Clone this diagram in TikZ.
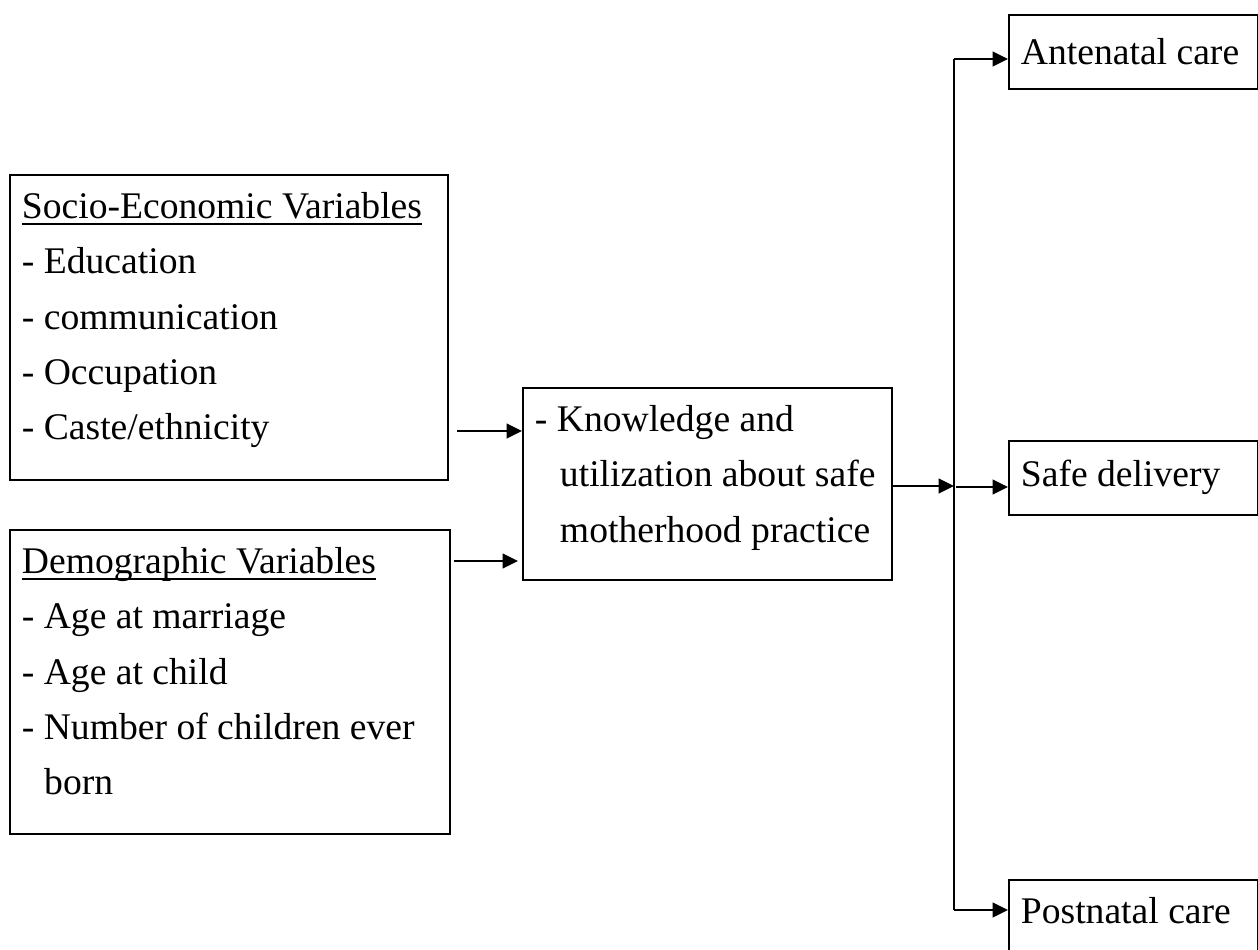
\documentclass[tikz,border=0pt]{standalone}
\usepackage{fontspec}
\setmainfont{Liberation Serif}
\usetikzlibrary{arrows.meta}
\newcommand\myul[1]{\setbox0\hbox{#1}\rlap{\rule[-2pt]{\wd0}{0.6pt}}\box0}
\begin{document}
\begin{tikzpicture}[x=0.327pt,y=-0.327pt,
  box/.style={draw, line width=0.6pt, anchor=north west, inner xsep=3.92pt, inner ysep=0pt,
              text height=14.39pt, font=\fontsize{12.3pt}{18pt}\selectfont},
  rbox/.style={box, minimum width=81.42pt},
  arr/.style={-{Triangle[length=5pt,width=4.8pt]}, line width=0.6pt},
  ln/.style={line width=0.6pt}]
\useasboundingbox (0,0) rectangle (1258,949);

\node[box, minimum width=143.2pt, text depth=85.35pt] (socio) at (9,174)
  {\parbox[t]{135.36pt}{\mbox{\myul{Socio-Economic Variables}}\\
   \mbox{- Education}\\
   \mbox{- communication}\\
   \mbox{- Occupation}\\
   \mbox{- Caste/ethnicity}}};

\node[box, minimum width=143.88pt, text depth=85.02pt] (demo) at (9,529)
  {\parbox[t]{136.04pt}{\mbox{\myul{Demographic Variables}}\\
   \mbox{- Age at marriage}\\
   \mbox{- Age at child}\\
   \mbox{- Number of children ever}\\
   \mbox{\hspace*{7.3pt}born}}};

\node[box, minimum width=120.66pt, text depth=48.4pt] (mid) at (522,387)
  {\parbox[t]{112.82pt}{\mbox{- Knowledge and}\\
   \mbox{\hspace*{8.2pt}utilization about safe}\\
   \mbox{\hspace*{8.2pt}motherhood practice}}};

\node[rbox, text height=16.35pt, text depth=7.85pt] (ante) at (1008,14)
  {\parbox[t]{73.58pt}{\mbox{Antenatal care}}};
\node[rbox, text height=15.04pt, text depth=9.16pt] (safe) at (1008,440)
  {\parbox[t]{73.58pt}{\mbox{Safe delivery}}};
\node[rbox, text height=14.39pt, text depth=9.81pt] (post) at (1008,879)
  {\parbox[t]{73.58pt}{\mbox{Postnatal care}}};

\coordinate (s1) at (457,431);
\coordinate (d1) at (454,561);
\coordinate (m1) at (891,486);
\coordinate (jt) at (954,59);
\coordinate (jm) at (954,487);
\coordinate (jb) at (954,910);

\draw[arr] (s1) -- (s1 -| mid.west);
\draw[arr, shorten >=1.3pt] (d1) -- (d1 -| mid.west);
\draw[arr] (m1) -- (m1 -| jm);
\draw[ln] (jt) -- (jb);
\draw[arr] (jt) -- (jt -| ante.west);
\draw[arr] ([xshift=0.7pt]jm) -- (jm -| safe.west);
\draw[arr] (jb) -- (jb -| post.west);
\end{tikzpicture}
\end{document}
